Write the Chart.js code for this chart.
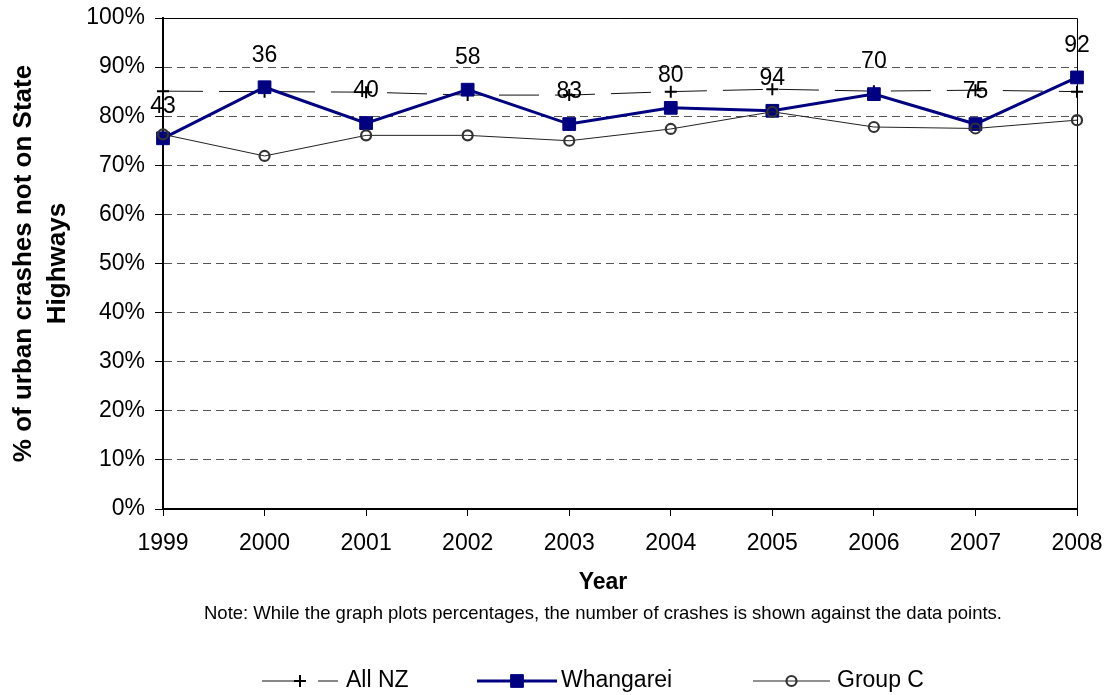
<!DOCTYPE html>
<html>
<head>
<meta charset="utf-8">
<script src="https://cdn.jsdelivr.net/npm/chart.js@4/dist/chart.umd.min.js"></script>
<style>
  html, body { margin: 0; padding: 0; background: #fff; }
  canvas { display: block; }
</style>
</head>
<body>
<canvas id="crashChart" width="1107" height="695"></canvas>
<script>
// Data

const years = ["1999", "2000", "2001", "2002", "2003", "2004", "2005", "2006", "2007", "2008"];
const allNZ = [85.1, 85.0, 84.9, 84.3, 84.3, 85.0, 85.5, 85.1, 85.3, 85.0];
const whangarei = [75.5, 85.9, 78.6, 85.4, 78.4, 81.7, 81.1, 84.5, 78.4, 87.9];
const groupC = [76.3, 71.9, 76.1, 76.1, 75.0, 77.4, 80.9, 77.8, 77.5, 79.2];
const crashCounts = [43, 36, 40, 58, 83, 80, 94, 70, 75, 92];
const yTicks = [0, 10, 20, 30, 40, 50, 60, 70, 80, 90, 100];

const FONT = "'Liberation Sans', Arial, sans-serif";
Chart.defaults.font.family = FONT;
Chart.defaults.color = "#000";

// Extra drawing: frame, count labels, x title, note, legend

const extras = {
    id: "extras",
    beforeDatasetsDraw(chart) {
        const { ctx, chartArea: a } = chart;
        ctx.save();
        ctx.strokeStyle = "#000";
        ctx.lineWidth = 1;
        ctx.beginPath();
        ctx.moveTo(a.left, a.top + 0.5);
        ctx.lineTo(a.right + 0.5, a.top + 0.5);
        ctx.lineTo(a.right + 0.5, a.bottom);
        ctx.stroke();
        ctx.restore();
    },
    afterDatasetsDraw(chart) {
        const { ctx } = chart;
        const meta = chart.getDatasetMeta(1);
        ctx.save();
        ctx.font = "23px " + FONT;
        ctx.fillStyle = "#000";
        ctx.textAlign = "center";
        ctx.textBaseline = "middle";
        meta.data.forEach((pt, i) => {
            ctx.fillText(String(crashCounts[i]), pt.x, pt.y - 32);
        });
        ctx.restore();
    },
    afterDraw(chart) {
        const { ctx } = chart;
        ctx.save();
        ctx.fillStyle = "#000";
        ctx.textAlign = "center";
        ctx.textBaseline = "middle";
        ctx.font = "bold 23px " + FONT;
        ctx.fillText("Year", 603, 583);
        ctx.font = "18.5px " + FONT;
        ctx.fillText("Note: While the graph plots percentages, the number of crashes is shown against the data points.", 603, 614);

        // legend
        const ly = 681;
        const items = [
            { ds: 0, x1: 262, x2: 338, tx: 346 },
            { ds: 1, x1: 477, x2: 557, tx: 561 },
            { ds: 2, x1: 753, x2: 830, tx: 837 },
        ];
        ctx.font = "23px " + FONT;
        ctx.textAlign = "left";
        items.forEach(it => {
            const ds = chart.data.datasets[it.ds];
            ctx.save();
            ctx.strokeStyle = ds.borderColor;
            ctx.lineWidth = ds.borderWidth;
            ctx.setLineDash(ds.borderDash || []);
            ctx.beginPath();
            ctx.moveTo(it.x1, ly);
            ctx.lineTo(it.x2, ly);
            ctx.stroke();
            ctx.restore();
            ctx.save();
            ctx.strokeStyle = ds.pointBorderColor;
            ctx.fillStyle = ds.pointBackgroundColor;
            ctx.lineWidth = ds.pointBorderWidth;
            Chart.helpers.drawPoint(ctx, {
                pointStyle: ds.pointStyle,
                radius: ds.pointRadius,
                rotation: 0,
                borderWidth: ds.pointBorderWidth,
            }, (it.x1 + it.x2) / 2, ly);
            ctx.restore();
            ctx.fillText(ds.label, it.tx, ly);
        });
        ctx.restore();
    },
};

const noScalePadding = (scale) => {
    scale.paddingTop = 0;
    scale.paddingBottom = 0;
    scale.paddingLeft = 0;
    scale.paddingRight = 0;
};

const ctx = document.getElementById("crashChart");

const chart = new Chart(ctx, {
    type: "line",
    data: {
        labels: years,
        datasets: [
            {
                label: "All NZ",
                data: allNZ,
                order: 3,
                borderColor: "#111",
                borderWidth: 1,
                borderDash: [40, 16],
                pointStyle: "cross",
                pointRadius: 6,
                pointBorderWidth: 2,
                pointBorderColor: "#000",
                pointBackgroundColor: "#000",
            },
            {
                label: "Whangarei",
                data: whangarei,
                order: 2,
                borderColor: "#000080",
                borderWidth: 3,
                pointStyle: "rect",
                pointRadius: 9,
                pointBorderWidth: 1,
                pointBorderColor: "#000080",
                pointBackgroundColor: "#000080",
            },
            {
                label: "Group C",
                data: groupC,
                order: 1,
                borderColor: "#222",
                borderWidth: 1,
                pointStyle: "circle",
                pointRadius: 5,
                pointBorderWidth: 2.2,
                pointBorderColor: "#333",
                pointBackgroundColor: "rgba(0,0,0,0)",
            },
        ]
    },
    options: {
        responsive: false,
        animation: false,
        events: [],
        layout: {
            padding: { top: 18, right: 30, bottom: 98, left: 0 }
        },
        scales: {
            x: {
                offset: false,
                afterFit: (scale) => {
                    scale.height = 88;
                    noScalePadding(scale);
                },
                grid: {
                    drawOnChartArea: false,
                    tickLength: 7,
                    tickColor: "#000",
                    tickWidth: 1,
                },
                border: { color: "#000", width: 2 },
                ticks: {
                    font: { size: 23 },
                    padding: 14,
                    maxRotation: 0,
                    autoSkip: false,
                },
            },
            y: {
                min: 0,
                max: 100,
                afterFit: (scale) => {
                    scale.width = 163;
                    noScalePadding(scale);
                },
                afterBuildTicks: (scale) => {
                    scale.ticks = yTicks.map(v => ({ value: v }));
                },
                grid: {
                    color: "#555",
                    lineWidth: 1,
                    tickLength: 8,
                    tickColor: "#000",
                    tickWidth: 1,
                    tickBorderDash: [],
                },
                border: { color: "#000", width: 2, dash: [8, 5] },
                ticks: {
                    font: { size: 23 },
                    padding: 10,
                    callback: (v) => v + "%",
                },
                title: {
                    display: true,
                    text: ["% of urban crashes not on State", "Highways"],
                    font: { size: 26, weight: "bold", lineHeight: 1.3 },
                    padding: { top: 7, bottom: 0 },
                },
            },
        },
        plugins: {
            legend: { display: false },
            tooltip: { enabled: false },
        },
    },
    plugins: [extras],
});
</script>
</body>
</html>
